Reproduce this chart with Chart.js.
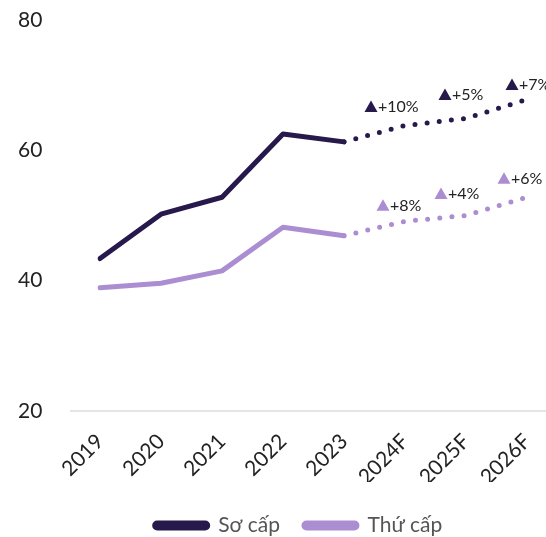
<!DOCTYPE html>
<html><head><meta charset="utf-8">
<script src="https://cdn.jsdelivr.net/npm/chart.js@4/dist/chart.umd.min.js"></script>
<style>html,body{margin:0;padding:0;background:#fff}#wrap{width:546px;height:537px}</style>
</head><body><div id="wrap"><canvas id="c"></canvas></div>
<script>
const categories = ['2019','2020','2021','2022','2023','2024F','2025F','2026F'];
const primaryValues = [43.4, 50.2, 52.8, 62.5, 61.3, 63.8, 64.9, 67.8];
const secondaryValues = [38.9, 39.6, 41.5, 48.2, 46.9, 49.1, 50.0, 52.8];
const primaryGrowth = [null, null, null, null, null, '+10%', '+5%', '+7%'];
const secondaryGrowth = [null, null, null, null, null, '+8%', '+4%', '+6%'];
const yTicks = [20, 40, 60, 80];

const DARK = '#27194b';
const LIGHT = '#ab8ed1';
const FONT = 'Lato, "Open Sans", sans-serif';

const growthPlugin = {
  id: 'growth',
  afterDatasetsDraw(chart) {
    const ctx = chart.ctx;
    const xs = chart.scales.x, ys = chart.scales.y;
    const sets = [
      {vals: primaryValues, labels: primaryGrowth, color: DARK, off: [[-34,-19],[-21,-24],[-15,-15]]},
      {vals: secondaryValues, labels: secondaryGrowth, color: LIGHT, off: [[-22,-16],[-25,-22],[-23,-19]]}
    ];
    ctx.save();
    sets.forEach(s => {
      let k = 0;
      s.labels.forEach((lab, i) => {
        if (!lab) return;
        const o = s.off[k++];
        const px = xs.getPixelForValue(i) + o[0];
        const py = ys.getPixelForValue(s.vals[i]) + o[1];
        ctx.fillStyle = s.color;
        ctx.beginPath();
        ctx.moveTo(px, py - 6);
        ctx.lineTo(px + 6.5, py + 5.5);
        ctx.lineTo(px - 6.5, py + 5.5);
        ctx.closePath();
        ctx.fill();
        ctx.fillStyle = '#222';
        ctx.font = '16px ' + FONT;
        ctx.textBaseline = 'middle';
        ctx.textAlign = 'left';
        ctx.fillText(lab, px + 7, py + 0.5);
      });
    });
    ctx.restore();
  }
};

const baseLinePlugin = {
  id: 'baseLine',
  beforeDatasetsDraw(chart) {
    const ctx = chart.ctx;
    const y = chart.scales.y.getPixelForValue(yTicks[0]);
    ctx.save();
    ctx.strokeStyle = '#dcdcdc';
    ctx.lineWidth = 1.5;
    ctx.beginPath();
    ctx.moveTo(70, y);
    ctx.lineTo(chart.width, y);
    ctx.stroke();
    ctx.restore();
  }
};

const legendShift = {
  id: 'legendShift',
  afterLayout(chart) {
    const lg = chart.legend;
    if (!lg) return;
    lg.left += 26; lg.right += 26;
    lg.top += 9; lg.bottom += 9;
  }
};

const dotted = c => (c.p0DataIndex >= 4 ? [0, 12.2] : undefined);

new Chart(document.getElementById('c'), {
  type: 'line',
  data: {
    labels: categories,
    datasets: [
      {label: 'Sơ cấp', data: primaryValues, borderColor: DARK, backgroundColor: DARK,
       borderWidth: 5, pointRadius: 0, tension: 0, borderCapStyle: 'round', borderJoinStyle: 'round',
       segment: {borderDash: dotted}},
      {label: 'Thứ cấp', data: secondaryValues, borderColor: LIGHT, backgroundColor: LIGHT,
       borderWidth: 5, pointRadius: 0, tension: 0, borderCapStyle: 'round', borderJoinStyle: 'round',
       segment: {borderDash: dotted}}
    ]
  },
  options: {
    responsive: true,
    maintainAspectRatio: false,
    animation: false,
    layout: {padding: {top: 20, right: 19, left: 18, bottom: 0}},
    scales: {
      x: {
        offset: false,
        grid: {display: false, drawTicks: false},
        border: {display: false},
        ticks: {color: '#222', font: {family: FONT, size: 21}, minRotation: 45, maxRotation: 45, padding: 18},
        afterFit: s => { s.height = 71; s.paddingLeft = 0; s.paddingRight = 0; }
      },
      y: {
        min: 20, max: 80,
        afterBuildTicks: s => { s.ticks = yTicks.map(v => ({value: v})); },
        grid: {display: false, drawTicks: false},
        border: {display: false},
        ticks: {color: '#222', font: {family: FONT, size: 21}, padding: 0, crossAlign: 'far'},
        afterFit: s => { s.width = 82; }
      }
    },
    plugins: {
      legend: {
        position: 'bottom',
        labels: {color: '#555', font: {family: FONT, size: 21}, boxWidth: 53, boxHeight: 5,
                 useBorderRadius: true, borderRadius: 2.5, padding: 24}
      },
      tooltip: {enabled: false}
    }
  },
  plugins: [baseLinePlugin, growthPlugin, legendShift]
});
</script></body></html>
